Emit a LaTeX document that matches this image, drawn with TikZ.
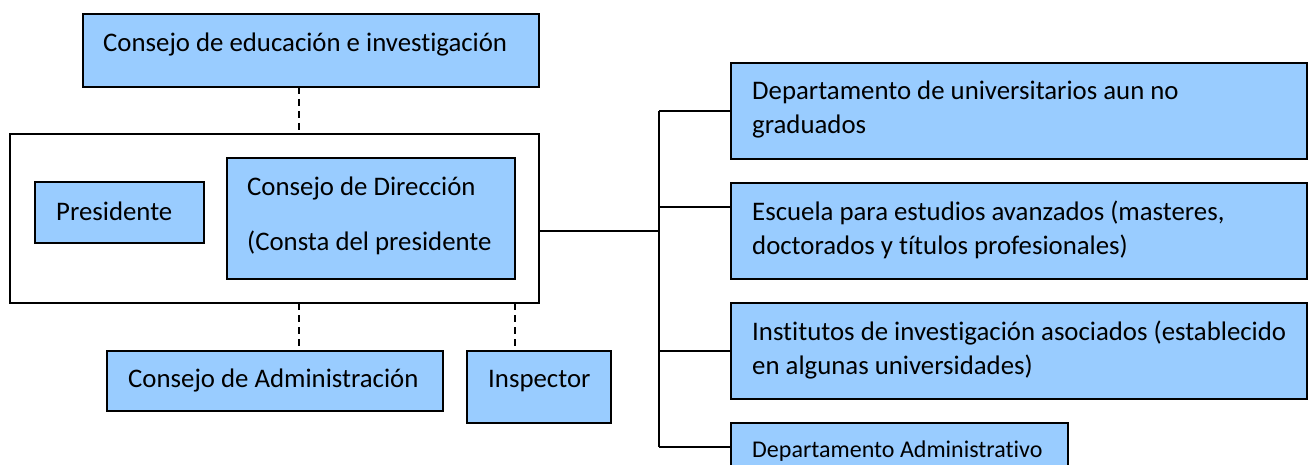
\documentclass[tikz,border=0pt]{standalone}
\usepackage{fontspec}
\setmainfont{Carlito}[RawFeature=-liga]
\definecolor{boxblue}{HTML}{99CCFF}
\tikzset{
  box/.style={draw=black, line width=1.6pt, fill=boxblue, inner sep=0pt, outer sep=0pt, anchor=north west},
  frame/.style={draw=black, line width=1.6pt, fill=white, inner sep=0pt, outer sep=0pt, anchor=north west},
  txt/.style={anchor=base west, inner sep=0pt, font=\fontsize{26.8}{30}\selectfont},
  smalltxt/.style={anchor=base west, inner sep=0pt, font=\fontsize{24}{28}\selectfont},
  solidlink/.style={draw=black, line width=1.4pt},
  dashlink/.style={draw=black, line width=1.4pt, dash pattern=on 7pt off 5pt},
}
\begin{document}
\begin{tikzpicture}[x=1pt,y=-1pt]
\useasboundingbox (0,0) rectangle (1313,465);
% top
\node[box, minimum width=456pt, minimum height=73pt] (cei) at (83,14) {};
\node[txt] (tcei) at (103,52) {Consejo de educación e investigación};
% outer frame
\node[frame, minimum width=529pt, minimum height=169pt] (outer) at (10,134) {};
\node[box, minimum width=169pt, minimum height=61pt] (pres) at (35,182) {};
\node[txt] (tpres) at (56,220) {Presidente};
\node[box, minimum width=288pt, minimum height=121pt] (cd) at (227,158) {};
\node[txt] (tcd1) at (247,195) {Consejo de Dirección};
\node[txt] (tcd2) at (247,250) {(Consta del presidente};
% bottom
\node[box, minimum width=336pt, minimum height=60pt] (cadm) at (107,351) {};
\node[txt] (tcadm) at (128,387) {Consejo de Administración};
\node[box, minimum width=144pt, minimum height=72pt] (insp) at (467,351) {};
\node[txt] (tinsp) at (488,387) {Inspector};
% right
\node[box, minimum width=576pt, minimum height=96pt] (d1) at (731,63) {};
\node[txt] (td1a) at (752,100) {Departamento de universitarios aun no};
\node[txt] (td1b) at (752,134) {graduados};
\node[box, minimum width=576pt, minimum height=96pt] (d2) at (731,183) {};
\node[txt] (td2a) at (752,220) {Escuela para estudios avanzados (masteres,};
\node[txt] (td2b) at (752,254) {doctorados y títulos profesionales)};
\node[box, minimum width=576pt, minimum height=96pt] (d3) at (731,303) {};
\node[txt] (td3a) at (752,340) {Institutos de investigación asociados (establecido};
\node[txt] (td3b) at (752,374) {en algunas universidades)};
\node[box, minimum width=337pt, minimum height=70pt] (d4) at (731,423) {};
\node[smalltxt] (td4) at (752,457) {Departamento Administrativo};
% connectors
\coordinate (bus) at (659,231);
\coordinate (busTop) at (659,111);
\coordinate (busBot) at (659,447);
\draw[dashlink] (cei.south -| 299,0) -- (outer.north -| 299,0);
\draw[dashlink] (outer.south -| 299,0) -- (cadm.north -| 299,0);
\draw[dashlink] (outer.south -| 515,0) -- (insp.north -| 515,0);
\draw[solidlink] (outer.east |- bus) -- (bus);
\draw[solidlink] (busTop) -- (busBot);
\draw[solidlink] (busTop) -- (busTop -| d1.west);
\draw[solidlink] (659,207) -- (d2.west |- 0,207);
\draw[solidlink] (659,351) -- (d3.west |- 0,351);
\draw[solidlink] (busBot) -- (busBot -| d4.west);
\end{tikzpicture}
\end{document}
